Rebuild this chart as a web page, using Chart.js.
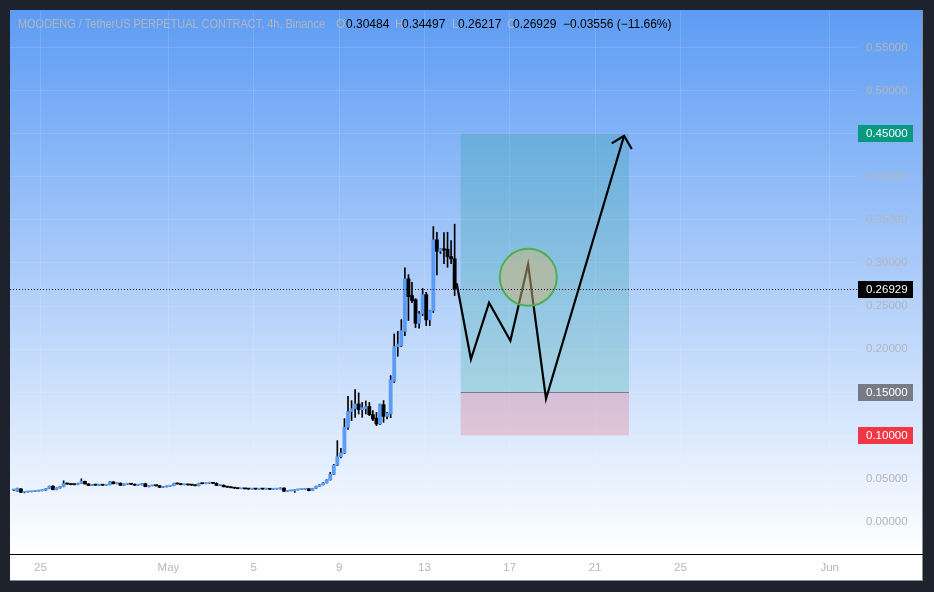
<!DOCTYPE html>
<html>
<head>
<meta charset="utf-8">
<script src="https://cdn.jsdelivr.net/npm/chart.js@4.4.1/dist/chart.umd.min.js"></script>
<style>
  html, body { margin: 0; padding: 0; background: #1e222d; }
  canvas { display: block; }
</style>
</head>
<body>
<canvas id="graf" width="934" height="592"></canvas>
<script>
// 4h candles, time in days counted from Apr 25 00:00 (first candle Apr 23 18:00)
const firstCandle = -1.25
const candleStep = 1 / 6

const opens = [
  .0368, .0353, .0380, .0341, .0346, .0348, .0351, .0356, .0360, .0366,
  .0385, .0411, .0372, .0391, .0408, .0442, .0437, .0431, .0430, .0444,
  .0468, .0438, .0420, .0428, .0424, .0425, .0423, .0428, .0462, .0440,
  .0447, .0422, .0436, .0437, .0434, .0423, .0429, .0440, .0407, .0417,
  .0420, .0418, .0398, .0405, .0412, .0418, .0444, .0438, .0429, .0430,
  .0427, .0424, .0417, .0444, .0441, .0446, .0449, .0445, .0421, .0423,
  .0405, .0401, .0394, .0389, .0383, .0384, .0381, .0378, .0381, .0378,
  .0381, .0378, .0380, .0376, .0378, .0379, .0390, .0353, .0360, .0361,
  .0370, .0374, .0376, .0382, .0360, .0386, .0410, .0429, .0450, .0484,
  .0549, .0655, .0754, .0797, .1094, .1276, .1311, .1365, .1299, .1310,
  .1334, .1241, .1200, .1133, .1357, .1222, .1249, .1628, .2030, .2042,
  .2208, .2816, .2622, .2575, .2300, .2410, .2633, .2340, .2448, .3268,
  .3136, .3164, .3160, .3074, .30484
]
const highs = [
  .0376, .0390, .0383, .0350, .0351, .0353, .0358, .0363, .0368, .0388,
  .0414, .0420, .0394, .0411, .0474, .0447, .0440, .0436, .0447, .0498,
  .0472, .0441, .0431, .0432, .0429, .0428, .0432, .0466, .0465, .0451,
  .0450, .0440, .0441, .0440, .0437, .0432, .0443, .0446, .0420, .0423,
  .0422, .0421, .0408, .0415, .0421, .0447, .0447, .0441, .0434, .0433,
  .0430, .0427, .0447, .0446, .0449, .0452, .0451, .0452, .0426, .0428,
  .0408, .0404, .0397, .0392, .0387, .0386, .0383, .0384, .0383, .0384,
  .0383, .0383, .0382, .0380, .0381, .0393, .0393, .0362, .0364, .0372,
  .0376, .0378, .0384, .0385, .0388, .0412, .0431, .0453, .0487, .0572,
  .0665, .0940, .0850, .1195, .1454, .1404, .1531, .1493, .1384, .1400,
  .1384, .1288, .1268, .1365, .1404, .1268, .1694, .2178, .2208, .2343,
  .2943, .2865, .2776, .2587, .2440, .2703, .2660, .2452, .3422, .3356,
  .3167, .3353, .3356, .3260, .34497
]
const lows = [
  .0361, .0350, .0338, .0334, .0342, .0345, .0348, .0353, .0357, .0363,
  .0382, .0368, .0369, .0388, .0404, .0433, .0427, .0426, .0428, .0441,
  .0435, .0417, .0417, .0421, .0420, .0419, .0421, .0426, .0437, .0437,
  .0419, .0420, .0432, .0430, .0420, .0421, .0426, .0404, .0404, .0414,
  .0413, .0396, .0395, .0402, .0410, .0416, .0435, .0426, .0426, .0424,
  .0421, .0414, .0415, .0438, .0439, .0443, .0442, .0419, .0418, .0403,
  .0398, .0392, .0387, .0381, .0381, .0379, .0376, .0376, .0376, .0376,
  .0376, .0376, .0374, .0374, .0376, .0377, .0350, .0351, .0357, .0340,
  .0367, .0372, .0374, .0358, .0358, .0384, .0408, .0427, .0448, .0482,
  .0545, .0650, .0740, .0790, .1070, .1172, .1210, .1249, .1210, .1250,
  .1230, .1172, .1114, .1125, .1152, .1191, .1206, .1613, .1918, .2030,
  .2158, .2332, .2540, .2251, .2243, .2390, .2274, .2274, .2425, .2862,
  .3110, .2993, .2950, .2993, .26217
]
const closes = [
  .0369, .0386, .0341, .0346, .0348, .0351, .0356, .0360, .0366, .0385,
  .0411, .0372, .0391, .0408, .0442, .0437, .0431, .0430, .0444, .0468,
  .0438, .0420, .0428, .0424, .0425, .0423, .0428, .0462, .0440, .0447,
  .0422, .0436, .0437, .0434, .0423, .0429, .0440, .0407, .0417, .0420,
  .0418, .0398, .0405, .0412, .0418, .0444, .0438, .0429, .0430, .0427,
  .0424, .0417, .0444, .0441, .0446, .0449, .0445, .0421, .0423, .0405,
  .0401, .0394, .0389, .0383, .0384, .0381, .0378, .0381, .0378, .0381,
  .0378, .0380, .0376, .0378, .0379, .0390, .0353, .0360, .0361, .0370,
  .0374, .0376, .0382, .0360, .0386, .0410, .0429, .0450, .0484, .0549,
  .0655, .0754, .0797, .1094, .1276, .1311, .1365, .1299, .1322, .1334,
  .1241, .1191, .1133, .1357, .1222, .1256, .1644, .2030, .2061, .2216,
  .2816, .2610, .2564, .2300, .2410, .2633, .2340, .2448, .3268, .3136,
  .3164, .3150, .3074, .30485, .26929
]

// axes
const xTicks = [0, 6, 10, 14, 18, 22, 26, 30, 37]
const xLabels = ['25', 'May', '5', '9', '13', '17', '21', '25', 'Jun']
const yTicks = [0, 0.05, 0.10, 0.15, 0.20, 0.25, 0.30, 0.35, 0.40, 0.45, 0.50, 0.55]

// long position tool
const posStart = 19.70
const posEnd = 27.59
const posTarget = 0.45
const posEntry = 0.15
const posStop = 0.10

// projected path + arrow head
const pathTimes = [19.51, 20.18, 21.03, 22.03, 22.86, 23.70, 27.36]
const pathPrices = [0.2764, 0.1883, 0.2539, 0.2099, 0.2984, 0.1426, 0.4475]
const arrowTimes = [26.78, 27.36, 27.72]
const arrowPrices = [0.4387, 0.4475, 0.4321]

// circle marker
const circleTime = 22.87
const circlePrice = 0.2834
const circleRadius = 28.5

// header
const title = 'MOODENG / TetherUS PERPETUAL CONTRACT, 4h, Binance'
const ohlcNames = ['O', 'H', 'L', 'C']

const upColor = '#5b9cf6'
const downColor = '#000000'
const greyText = '#b2b5be'
const gridColor = 'rgba(255,255,255,0.12)'
const fontFam = '"Liberation Sans", Arial, sans-serif'

const n = closes.length
const last = closes[n - 1]

const bodies = opens.map((o, i) => ({x: firstCandle + i * candleStep, y: [o, closes[i]]}))
const wicks = lows.map((l, i) => ({x: firstCandle + i * candleStep, y: [l, highs[i]]}))
const bodyColors = opens.map((o, i) => closes[i] >= o ? upColor : downColor)

const pathData = pathTimes.map((t, i) => ({x: t, y: pathPrices[i]}))
const arrowData = arrowTimes.map((t, i) => ({x: t, y: arrowPrices[i]}))

// no extra room for edge labels, the area is fixed
function noPad(s) {
  s.paddingLeft = 0
  s.paddingRight = 0
  s.paddingTop = 0
  s.paddingBottom = 0
}

// background, position box
const drawPlugin = {
  id: 'drawPlugin',
  beforeDraw(chart) {
    const c = chart.ctx
    const a = chart.chartArea
    c.save()
    c.fillStyle = '#1e222d'
    c.fillRect(0, 0, chart.width, chart.height)
    c.fillStyle = '#ffffff'
    c.fillRect(10, 10, 913, 571)
    let g = c.createLinearGradient(0, a.top, 0, a.bottom)
    g.addColorStop(0, '#5d9cf4')
    g.addColorStop(1, '#ffffff')
    c.fillStyle = g
    c.fillRect(10, a.top, 913, a.bottom - a.top)
    // panel edges
    c.fillStyle = '#8a8d96'
    c.fillRect(922, 10, 1, 571)
    c.fillRect(10, 580, 913, 1)
    c.restore()
  },
  beforeDatasetsDraw(chart) {
    const c = chart.ctx
    const xs = chart.scales.x, ys = chart.scales.y
    const x1 = xs.getPixelForValue(posStart), x2 = xs.getPixelForValue(posEnd)
    const yT = ys.getPixelForValue(posTarget), yE = ys.getPixelForValue(posEntry), yS = ys.getPixelForValue(posStop)
    c.save()
    c.fillStyle = 'rgba(8,153,129,0.2)'
    c.fillRect(x1, yT, x2 - x1, yE - yT)
    c.fillStyle = 'rgba(242,54,69,0.2)'
    c.fillRect(x1, yE, x2 - x1, yS - yE)
    c.strokeStyle = '#787b86'
    c.lineWidth = 1
    c.beginPath()
    c.moveTo(x1, Math.round(yE) + 0.5)
    c.lineTo(x2, Math.round(yE) + 0.5)
    c.stroke()
    c.restore()
  },
  afterDatasetsDraw(chart) {
    const c = chart.ctx
    const a = chart.chartArea
    const y = Math.round(chart.scales.y.getPixelForValue(last)) + 0.5
    c.save()
    c.strokeStyle = '#000'
    c.lineWidth = 1
    c.setLineDash([1, 2])
    c.beginPath()
    c.moveTo(a.left, y)
    c.lineTo(a.right, y)
    c.stroke()
    c.restore()
  },
  afterDraw(chart) {
    const c = chart.ctx
    const a = chart.chartArea
    const ys = chart.scales.y
    c.save()
    // bottom separator
    c.fillStyle = '#000'
    c.fillRect(10, a.bottom, 913, 1)

    // price labels on the axis
    const boxes = [
      [posTarget, '#089981'],
      [last, '#000000'],
      [posEntry, '#787b86'],
      [posStop, '#f23645'],
    ]
    c.font = '11.5px ' + fontFam
    c.textBaseline = 'middle'
    c.textAlign = 'left'
    boxes.forEach(([v, col]) => {
      const y = ys.getPixelForValue(v)
      c.fillStyle = col
      c.fillRect(a.right + 1, Math.round(y - 8.5), 55, 17)
      c.fillStyle = '#ffffff'
      c.fillText(v.toFixed(5), a.right + 9, y + 0.5)
    })

    // header line
    const prev = closes[n - 2]
    const chg = last - prev
    const vals = [opens[n - 1], highs[n - 1], lows[n - 1], closes[n - 1]]
    c.font = '12px ' + fontFam
    let hy = 24.5
    c.fillStyle = greyText
    c.fillText(title, 18, hy, 307)
    const pos = [[336, 346], [395, 402], [452, 458], [507, 513]]
    vals.forEach((v, i) => {
      c.fillStyle = greyText
      c.fillText(ohlcNames[i], pos[i][0], hy)
      c.fillStyle = '#000'
      c.fillText(v.toFixed(5), pos[i][1], hy)
    })
    const chgText = (chg.toFixed(5) + ' (' + (chg / prev * 100).toFixed(2) + '%)').replace(/-/g, '\u2212')
    c.fillText(chgText, 563, hy)
    c.restore()
  }
}

Chart.defaults.font.family = fontFam

new Chart(document.getElementById('graf'), {
  type: 'bar',
  data: {
    datasets: [
      {
        type: 'bubble',
        data: [{x: circleTime, y: circlePrice, r: circleRadius}],
        backgroundColor: 'rgba(208,179,116,0.5)',
        borderColor: '#4caf50',
        borderWidth: 2,
        order: 0
      },
      {
        type: 'line',
        data: arrowData,
        borderColor: '#000',
        borderWidth: 2.2,
        pointRadius: 0,
        fill: false,
        order: 1
      },
      {
        type: 'line',
        data: pathData,
        borderColor: '#000',
        borderWidth: 2.2,
        pointRadius: 0,
        fill: false,
        order: 1
      },
      {
        data: bodies,
        backgroundColor: bodyColors,
        barThickness: 3.2,
        minBarLength: 1,
        grouped: false,
        order: 2
      },
      {
        data: wicks,
        backgroundColor: '#000',
        barThickness: 1,
        grouped: false,
        order: 3
      }
    ]
  },
  options: {
    responsive: false,
    animation: false,
    events: [],
    layout: {autoPadding: false, padding: {left: 10, top: 10, right: 11, bottom: 11}},
    plugins: {
      legend: {display: false},
      tooltip: {enabled: false}
    },
    scales: {
      x: {
        type: 'linear',
        position: 'bottom',
        offset: false,
        min: -1.430,
        max: 38.28,
        afterBuildTicks: s => { s.ticks = xTicks.map(v => ({value: v})) },
        afterFit: s => { s.height = 27; noPad(s) },
        ticks: {
          color: greyText,
          font: {size: 11.5},
          padding: 7,
          maxRotation: 0,
          autoSkip: false,
          callback: (v, i) => xLabels[i]
        },
        grid: {
          offset: false,
          color: gridColor,
          drawTicks: false
        },
        border: {display: false}
      },
      y: {
        type: 'linear',
        position: 'right',
        min: -0.03745,
        max: 0.5933,
        afterBuildTicks: s => { s.ticks = yTicks.map(v => ({value: v})) },
        afterFit: s => { s.width = 66; noPad(s) },
        ticks: {
          color: greyText,
          font: {size: 11.5},
          padding: 9,
          callback: v => v.toFixed(5)
        },
        grid: {
          color: gridColor,
          drawTicks: false
        },
        border: {display: false}
      }
    }
  },
  plugins: [drawPlugin]
});
</script>
</body>
</html>
